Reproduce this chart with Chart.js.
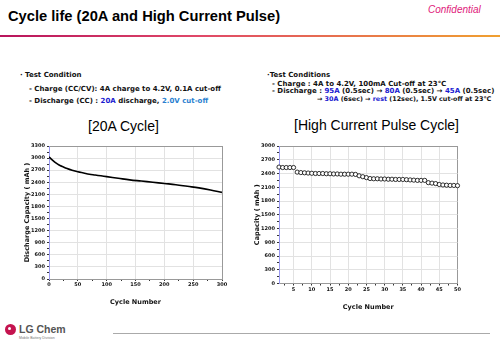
<!DOCTYPE html>
<html>
<head>
<meta charset="utf-8">
<script src="https://cdn.jsdelivr.net/npm/chart.js@4.4.1/dist/chart.umd.min.js"></script>
<style>
  body { margin: 0; background: #fff; }
  #slide { position: relative; width: 500px; height: 346px; overflow: hidden; background: #fff; font-family: 'DejaVu Sans', sans-serif; }
  .abs { position: absolute; white-space: nowrap; }
  .cond { font-weight: bold; font-size: 7px; color: #111; }
  .cond2 { font-weight: bold; font-size: 7px; color: #111; }
  .b1 { color: #1a1ad0; }
  .b2 { color: #2a7fd0; }
  canvas { position: absolute; }
</style>
</head>
<body>
<div id="slide">
  <div class="abs" style="left:8px;top:8px;font-family:'Liberation Sans';font-weight:bold;font-size:14.7px;color:#000;">Cycle life (20A and High Current Pulse)</div>
  <div class="abs" style="left:428px;top:4px;font-family:'Liberation Sans';font-style:italic;font-size:10px;color:#e0207a;">Confidential</div>
  <div class="abs" style="left:0;top:35px;width:500px;height:2px;background:linear-gradient(to right,#b8145c,#e04868 40%,#f0a030);"></div>

  <div class="abs cond" style="left:20px;top:71px;">· Test Condition</div>
  <div class="abs cond" style="left:29px;top:84.5px;">- Charge (CC/CV): 4A charge to 4.2V, 0.1A cut-off</div>
  <div class="abs cond" style="left:29px;top:97px;">- Discharge (CC) : <span class="b1">20A</span> discharge, <span class="b2">2.0V cut-off</span></div>
  <div class="abs" style="left:88px;top:118px;font-family:'Liberation Sans';font-size:14px;color:#000;">[20A Cycle]</div>

  <div class="abs cond2" style="left:267px;top:70.5px;">·Test Conditions</div>
  <div class="abs cond2" style="left:272px;top:79.5px;">- Charge : 4A to 4.2V, 100mA Cut-off at 23℃</div>
  <div class="abs cond2" style="left:272px;top:87px;">- Discharge : <span class="b1">95A</span> (0.5sec) → <span class="b1">80A</span> (0.5sec) → <span class="b1">45A</span> (0.5sec)</div>
  <div class="abs cond2" style="left:317px;top:95px;font-size:6.4px;">→ <span class="b1">30A</span> (6sec) → <span class="b1">rest</span> (12sec), 1.5V cut-off at 23℃</div>
  <div class="abs" style="left:294px;top:117px;font-family:'Liberation Sans';font-size:14px;color:#000;">[High Current Pulse Cycle]</div>

  <canvas id="c20a" width="220" height="170" style="left:10px;top:140px;"></canvas>
  <canvas id="cpulse" width="225" height="175" style="left:240px;top:140px;"></canvas>

  <div class="abs" style="left:5px;top:324px;width:11px;height:11px;border-radius:50%;background:#c4134f;"></div>
  <div class="abs" style="left:8px;top:327px;width:3px;height:3px;border-radius:50%;background:#fff;"></div>
  <div class="abs" style="left:19px;top:323px;font-family:'Liberation Sans';font-weight:bold;font-size:10.5px;color:#555;">LG Chem</div>
  <div class="abs" style="left:19px;top:336px;font-family:'Liberation Sans';font-size:3.5px;color:#777;">Mobile Battery Division</div>
  <div class="abs" style="left:113px;top:333px;width:377px;height:1px;background:#aaa;"></div>
</div>
<script>
// 20A cycle test
const cycles20A = [0, 5, 10, 15, 20, 25, 30, 40, 50, 60, 70, 80, 90, 100, 120, 140, 160, 180, 200, 220, 240, 260, 280, 300];
const capacity20A = [3030, 2960, 2900, 2850, 2810, 2780, 2750, 2700, 2660, 2630, 2600, 2580, 2560, 2540, 2500, 2460, 2430, 2400, 2370, 2340, 2300, 2260, 2210, 2150];

// high current pulse cycle test, cycles 1..50
const cyclesPulse = [];
for (let i = 1; i <= 50; i++) cyclesPulse.push(i);
const capacityPulse = [2540, 2530, 2530, 2530, 2530, 2430, 2420, 2415, 2410, 2405,
  2400, 2400, 2400, 2395, 2395, 2390, 2390, 2385, 2385, 2385,
  2385, 2380, 2350, 2330, 2310, 2290, 2285, 2285, 2280, 2280,
  2275, 2275, 2270, 2270, 2270, 2265, 2260, 2255, 2250, 2250,
  2250, 2200, 2190, 2180, 2160, 2150, 2145, 2140, 2140, 2135];

const tickFont = { family: 'DejaVu Sans', size: 5, weight: 'bold' };
const titleFont = { family: 'DejaVu Sans', size: 6.5, weight: 'bold' };

// major ticks every step, minor ones halfway (no label, no grid line)
function buildTicks(min, max, step) {
    return function (s) {
        let t = [];
        for (let v = Math.ceil(min / (step / 2)) * (step / 2); v <= max + 1e-9; v += step / 2) t.push({ value: v });
        s.ticks = t;
    };
}
const isMajor = (v, step) => Math.abs(v / step - Math.round(v / step)) < 1e-6;

function axes(xMin, xMax, xStep, yMax, yStep, yTitle, yWidth, xHeight) {
    return {
        x: {
            type: 'linear',
            min: xMin,
            max: xMax,
            afterBuildTicks: buildTicks(xMin, xMax, xStep),
            grid: {
                color: function (c) {
                    if (!c.tick || !isMajor(c.tick.value, xStep)) return 'rgba(0,0,0,0)';
                    return c.tick.value == xMax ? '#999' : '#e2e2e2';
                },
                tickLength: 2,
                tickColor: '#333'
            },
            border: { color: '#999' },
            ticks: {
                font: tickFont, color: '#111', padding: 1, maxRotation: 0, autoSkip: false,
                callback: (v) => isMajor(v, xStep) ? String(v) : ''
            },
            title: { display: true, text: 'Cycle Number', font: titleFont, color: '#111', padding: { top: 0 } },
            afterFit: function (s) { s.height = xHeight; }
        },
        y: {
            min: 0,
            max: yMax,
            afterBuildTicks: buildTicks(0, yMax, yStep),
            ticks: {
                font: tickFont, color: '#111', padding: 2, autoSkip: false,
                callback: (v) => isMajor(v, yStep) ? String(v) : ''
            },
            grid: {
                color: function (c) {
                    if (!c.tick || !isMajor(c.tick.value, yStep)) return 'rgba(0,0,0,0)';
                    return c.tick.value == yMax ? '#999' : '#e2e2e2';
                },
                tickLength: 2,
                tickColor: '#333'
            },
            border: { color: '#9a9af0', width: 1 },
            title: { display: true, text: yTitle, font: titleFont, color: '#111', padding: { top: 13, bottom: 0 } },
            afterFit: function (s) { s.width = yWidth; }
        }
    };
}

new Chart('c20a', {
    type: 'line',
    data: {
        datasets: [{
            data: cycles20A.map((c, i) => ({ x: c, y: capacity20A[i] })),
            borderColor: '#000',
            borderWidth: 1.6,
            pointRadius: 0,
            tension: 0.4,
            fill: false
        }]
    },
    options: {
        responsive: false,
        animation: false,
        layout: { padding: { top: 6, right: 8, left: 0, bottom: 0 } },
        plugins: { legend: { display: false }, tooltip: { enabled: false } },
        scales: axes(0, 300, 50, 3300, 300, 'Discharge Capacity ( mAh )', 39, 31)
    }
});

new Chart('cpulse', {
    type: 'line',
    data: {
        datasets: [{
            data: cyclesPulse.map((c, i) => ({ x: c, y: capacityPulse[i] })),
            showLine: false,
            pointRadius: 2.1,
            pointBorderWidth: 0.8,
            pointBorderColor: '#000',
            pointBackgroundColor: '#fff',
            clip: false
        }]
    },
    options: {
        responsive: false,
        animation: false,
        layout: { padding: { top: 6, right: 7.5, left: 0, bottom: 0 } },
        plugins: { legend: { display: false }, tooltip: { enabled: false } },
        scales: axes(1, 50, 5, 3000, 300, 'Capacity ( mAh )', 39, 31.5)
    }
});
</script>
</body>
</html>
